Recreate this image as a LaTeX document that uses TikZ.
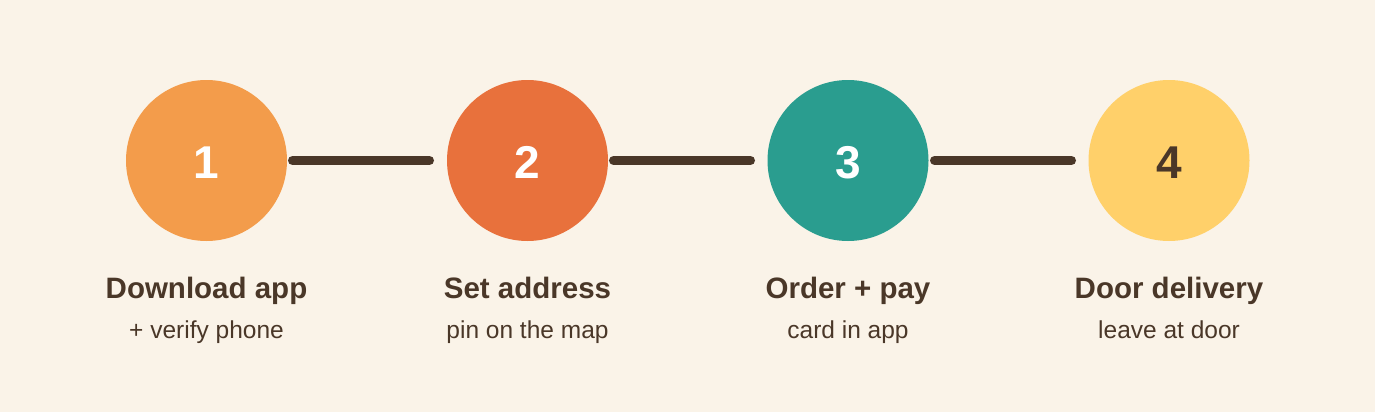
\documentclass[tikz,border=0pt]{standalone}
\usepackage{fontspec}
\setmainfont{Liberation Sans}
\definecolor{bg}{HTML}{FAF3E8}
\definecolor{dark}{HTML}{4A3728}
\definecolor{cone}{HTML}{F39C4B}
\definecolor{ctwo}{HTML}{E8713C}
\definecolor{cthree}{HTML}{2A9D8F}
\definecolor{cfour}{HTML}{FFD06A}
\tikzset{
  stepcircle/.style={circle, minimum size=161pt, inner sep=0pt},
  num/.style={anchor=base, font=\fontsize{46}{50}\selectfont\bfseries},
  title/.style={anchor=base, text=dark, font=\fontsize{29.5}{33}\selectfont\bfseries},
  sub/.style={anchor=base, text=dark, font=\fontsize{24.5}{28}\selectfont},
  link/.style={draw=dark, line width=9pt, line cap=round}
}
\begin{document}
\begin{tikzpicture}[x=1pt,y=-1pt]
\fill[bg] (0,0) rectangle (1375,412);
\useasboundingbox (0,0) rectangle (1375,412);
\node[stepcircle, fill=cone] (c1) at (206.5,160.5) {};
\node[stepcircle, fill=ctwo] (c2) at (527.5,160.5) {};
\node[stepcircle, fill=cthree] (c3) at (848,160.5) {};
\node[stepcircle, fill=cfour] (c4) at (1169,160.5) {};
\node[num, text=white] (n1) at (206.5,178) {1};
\node[num, text=white] (n2) at (527.5,178) {2};
\node[num, text=white] (n3) at (848,178) {3};
\node[num, text=dark] (n4) at (1169,178) {4};
\coordinate (a1) at (292.5,160.5); \coordinate (b1) at (429.5,160.5);
\coordinate (a2) at (613.5,160.5); \coordinate (b2) at (750.5,160.5);
\coordinate (a3) at (934.5,160.5); \coordinate (b3) at (1071.5,160.5);
\draw[link] (a1) -- (b1);
\draw[link] (a2) -- (b2);
\draw[link] (a3) -- (b3);
\node[title] (t1) at (206.5,298) {Download app};
\node[title] (t2) at (527.5,298) {Set address};
\node[title] (t3) at (848,298) {Order + pay};
\node[title] (t4) at (1169,298) {Door delivery};
\node[sub] (s1) at (206.5,338) {+ verify phone};
\node[sub] (s2) at (527.5,338) {pin on the map};
\node[sub] (s3) at (848,338) {card in app};
\node[sub] (s4) at (1169,338) {leave at door};
\end{tikzpicture}
\end{document}
